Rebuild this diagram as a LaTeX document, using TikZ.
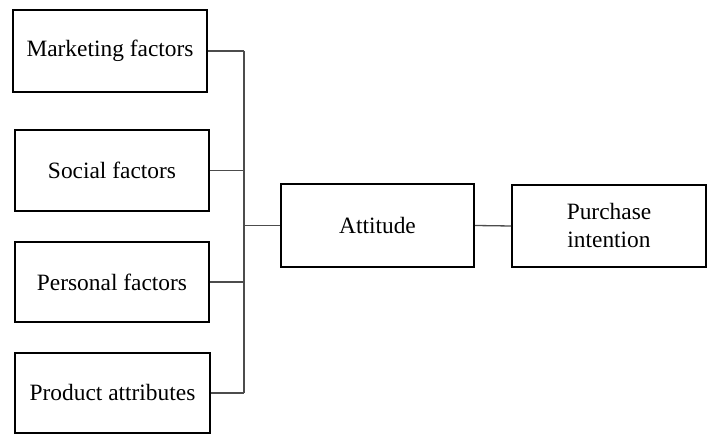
\documentclass[tikz,border=0pt]{standalone}
\usepackage{fontspec}
\setmainfont{Liberation Serif}
\begin{document}
\begin{tikzpicture}[x=1pt,y=1pt,
  factorbox/.style={draw=black,line width=2pt,fill=white,minimum width=194pt,minimum height=81pt,inner sep=0pt,align=center,font=\fontsize{23.4}{28}\selectfont},
  conn/.style={draw=black!70,line width=1.3pt}]
\useasboundingbox (0,0) rectangle (709,435);
\node[factorbox,minimum height=82pt] (mk) at (110,384) {Marketing factors};
\node[factorbox] (so) at (112,264.5) {Social factors};
\node[factorbox,minimum height=80pt] (pe) at (112,153) {Personal factors};
\node[factorbox,minimum width=195pt,minimum height=80pt] (pr) at (112.5,42) {Product attributes};
\node[factorbox,minimum width=193pt,minimum height=83pt] (att) at (377.5,209.5) {Attitude};
\node[factorbox,minimum height=82pt] (pi) at (609,209) {Purchase\\intention};
\coordinate (bus) at (244,0);
\draw[conn] (mk.east) -- (mk.east -| bus);
\draw[conn] (so.east) -- (so.east -| bus);
\draw[conn] (pe.east) -- (pe.east -| bus);
\draw[conn] (pr.east) -- (pr.east -| bus);
\draw[conn] (mk.east -| bus) -- (pr.east -| bus);
\draw[conn] (att.west -| bus) -- (att.west);
\draw[conn] (att.east) -- (pi.west);
\end{tikzpicture}
\end{document}
